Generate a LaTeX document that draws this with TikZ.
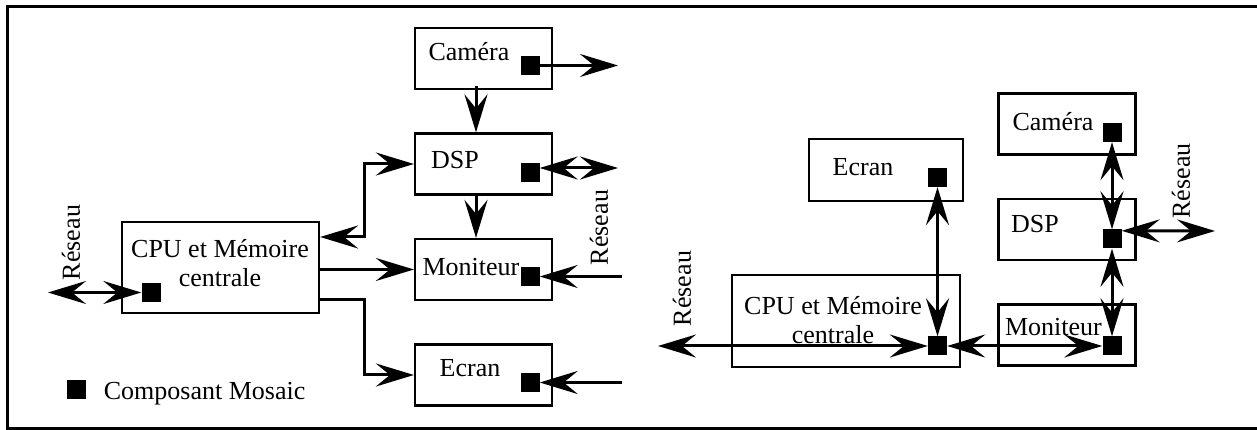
\documentclass[tikz,border=0pt]{standalone}
\usepackage{fontspec}
\setmainfont{Liberation Serif}
\usepackage{tikz}
\usetikzlibrary{arrows.meta, positioning}
\tikzset{
node distance=105.5pt,
>={Stealth[length=38pt, width=23pt, inset=14pt]},
Block/.style={
	draw, rectangle,
	line width=2.2pt,
	minimum width=137pt,
	minimum height=61pt,
	inner sep=0pt
},
Mosaic/.style={
	fill=black,
	minimum size=19pt,
	inner sep=0pt
},
Label/.style={
	inner sep=0pt,
	font=\fontsize{26}{29}\selectfont,
	align=center
},
Net/.style={
	Label,
	rotate=90
},
Edge/.style={
	draw=black,
	line width=3pt,
	->
},
DEdge/.style={
	Edge,
	<->
}
}

\begin{document}
\begin{tikzpicture}[x=1pt, y=1pt]
	\useasboundingbox (0,0) rectangle (1257,430);
	\draw[line width=2.5pt] (1257,423.5) -- (7.5,423.5) -- (7.5,1.5) -- (1257,1.5);

	\node[Block] (camL) at (483.5,371.5) {};
	\node[Block, below of= camL] (dspL) {};
	\node[Block, below of= dspL] (monL) {};
	\node[Block, below of= monL] (ecrL) {};
	\node[Block, minimum width=197pt, minimum height=91pt] (cpuL) at (220.5,162.5) {};

	\node[Label] (camLt) at ([shift={(-14.5,7)}]camL.center) {Caméra};
	\node[Label] (dspLt) at ([shift={(-28.5,4)}]dspL.center) {DSP};
	\node[Label] (monLt) at ([shift={(-12.5,2.5)}]monL.center) {Moniteur};
	\node[Label] (ecrLt) at ([shift={(-13.5,7)}]ecrL.center) {Ecran};
	\node[Label] (cpuLt) at ([shift={(-0.5,4)}]cpuL.center) {CPU et Mémoire\\centrale};

	\node[Mosaic] (camLm) at ([shift={(46.5,-7)}]camL.center) {};
	\node[Mosaic] (dspLm) at ([shift={(46.5,-8.5)}]dspL.center) {};
	\node[Mosaic] (monLm) at ([shift={(46.5,-7)}]monL.center) {};
	\node[Mosaic] (ecrLm) at ([shift={(46.5,-7.5)}]ecrL.center) {};
	\node[Mosaic] (cpuLm) at ([shift={(-69.5,-25)}]cpuL.center) {};

	\node[Net] (netLa) at (71,187.5) {Réseau};
	\node[Net] (netLb) at (599,202.5) {Réseau};

	\coordinate (camLout) at (camLm -| 618,0);
	\coordinate (dspLout) at (618,262);
	\coordinate (monLin) at (monLm -| 622,0);
	\coordinate (ecrLin) at (ecrLm -| 622,0);
	\coordinate (netLout) at (cpuLm -| 48,0);

	\draw[Edge] (camLm) -- (camLout);
	\draw[DEdge] ([yshift=4.5]dspLm.east) -- (dspLout);
	\draw[Edge] (monLin) -- (monLm);
	\draw[Edge] (ecrLin) -- (ecrLm);
	\draw[Edge] ([xshift=-7.5,yshift=4]camL.south) -- ([xshift=-7.5]dspL.north);
	\draw[Edge] ([xshift=-7.5]dspL.south) -- ([xshift=-7.5]monL.north);
	\draw[DEdge] (netLout) -- (cpuLm);
	\draw[DEdge] ([yshift=30.5]cpuL.east) -- ++(44,0) |- (dspL.west);
	\draw[Edge] (cpuL.east |- monL.west) -- (monL.west);
	\draw[Edge] ([yshift=-32.5]cpuL.east) -- ++(44,0) |- (ecrL.west);

	\node[Mosaic] (legm) at (76,40) {};
	\node[Label, right=18pt of legm, yshift=-4pt] (legt) {Composant Mosaic};

	\node[Block] (camR) at (1067,306) {};
	\node[Block, below of= camR] (dspR) {};
	\node[Block, below of= dspR] (monR) {};
	\node[Block, minimum width=154pt, minimum height=62pt] (ecrR) at (886,260) {};
	\node[Block, minimum width=228pt, minimum height=92pt] (cpuR) at (846,109) {};

	\node[Label] (camRt) at ([shift={(-14,2)}]camR.center) {Caméra};
	\node[Label] (dspRt) at ([shift={(-32,5.5)}]dspR.center) {DSP};
	\node[Label] (monRt) at ([shift={(-13.5,8)}]monR.center) {Moniteur};
	\node[Label] (ecrRt) at ([shift={(-23,3)}]ecrR.center) {Ecran};
	\node[Label] (cpuRt) at ([shift={(-13,1)}]cpuR.center) {CPU et Mémoire\\centrale};

	\node[Mosaic] (camRm) at ([shift={(45,-8.5)}]camR.center) {};
	\node[Mosaic] (dspRm) at ([shift={(45,-9.5)}]dspR.center) {};
	\node[Mosaic] (monRm) at ([shift={(45,-11)}]monR.center) {};
	\node[Mosaic] (ecrRm) at ([shift={(51.5,-7.5)}]ecrR.center) {};
	\node[Mosaic] (cpuRm) at ([shift={(91.5,-25)}]cpuR.center) {};

	\node[Net] (netRa) at (682,141.5) {Réseau};
	\node[Net] (netRb) at (1181,249) {Réseau};

	\coordinate (netRout) at (cpuRm -| 658,0);
	\coordinate (dspRout) at (1215,199);

	\draw[DEdge] (netRout) -- (cpuRm);
	\draw[DEdge] (ecrRm) -- (cpuRm);
	\draw[DEdge] (cpuRm) -- (monRm);
	\draw[DEdge] (camRm) -- (dspRm);
	\draw[DEdge] (dspRm) -- (monRm);
	\draw[DEdge] ([yshift=-1.5]dspRm.north east) -- (dspRout);
\end{tikzpicture}
\end{document}
